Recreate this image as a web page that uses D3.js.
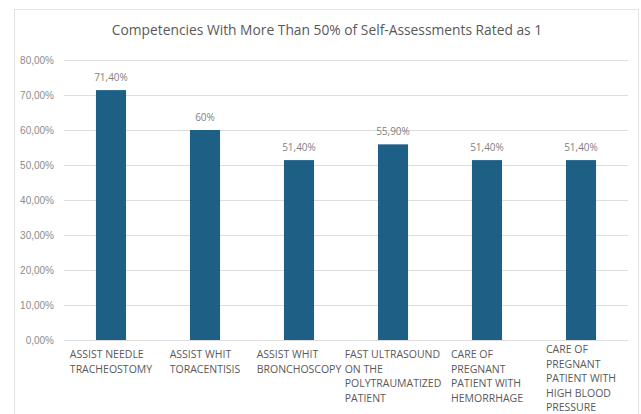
<!DOCTYPE html>
<meta charset="utf-8">
<style>
body { margin: 0; background: #fff; }
svg { font-family: "Open Sans", sans-serif; }
.grid line { stroke: #dedede; }
.grid path { display: none; }
.axis--y path, .axis--y line { display: none; }
.axis--y text { fill: #8c8c8c; font-size: 10px; }
.bar { fill: #1e5f85; }
.value { fill: #7f7f7f; font-size: 10px; text-anchor: middle; }
.cat { fill: #595959; font-size: 10.5px; }
</style>
<svg width="641" height="414"></svg>
<script src="https://d3js.org/d3.v7.min.js"></script>
<script>

var categories = [
  ["ASSIST NEEDLE", "TRACHEOSTOMY"],
  ["ASSIST WHIT", "TORACENTISIS"],
  ["ASSIST WHIT", "BRONCHOSCOPY"],
  ["FAST ULTRASOUND", "ON THE", "POLYTRAUMATIZED", "PATIENT"],
  ["CARE OF", "PREGNANT", "PATIENT WITH", "HEMORRHAGE"],
  ["CARE OF", "PREGNANT", "PATIENT WITH", "HIGH BLOOD", "PRESSURE"]
];
var values = [0.714, 0.60, 0.514, 0.559, 0.514, 0.514];
var valueLabels = ["71,40%", "60%", "51,40%", "55,90%", "51,40%", "51,40%"];
var yTicks = [0, 0.1, 0.2, 0.3, 0.4, 0.5, 0.6, 0.7, 0.8];

var svg = d3.select("svg"),
    margin = {top: 60, right: 13, bottom: 74, left: 64},
    width = +svg.attr("width") - margin.left - margin.right,
    height = +svg.attr("height") - margin.top - margin.bottom;

// chart frame
svg.append("rect")
    .attr("x", 14.5).attr("y", 9.5)
    .attr("width", 624).attr("height", 420)
    .attr("fill", "none").attr("stroke", "#e3e3e3");

svg.append("text")
    .attr("x", 327).attr("y", 35)
    .attr("text-anchor", "middle")
    .attr("fill", "#595959")
    .style("font-size", "13.8px")
    .text("Competencies With More Than 50% of Self-Assessments Rated as 1");

var x = d3.scaleBand().domain(d3.range(values.length)).range([0, width]).paddingInner(0.68).paddingOuter(0.34),
    y = d3.scaleLinear().domain([0, 0.8]).range([height, 0]);

var g = svg.append("g")
    .attr("transform", "translate(" + margin.left + "," + margin.top + ")");

g.append("g")
    .attr("class", "grid")
    .call(d3.axisLeft(y).tickValues(yTicks).tickSize(-width).tickFormat(""));

g.append("g")
    .attr("class", "axis axis--y")
    .call(d3.axisLeft(y).tickValues(yTicks).tickSize(0).tickPadding(10)
      .tickFormat(function(d) { return (d * 100).toFixed(2).replace(".", ",") + "%"; }));

g.selectAll(".bar")
    .data(values)
  .enter().append("rect")
    .attr("class", "bar")
    .attr("x", function(d, i) { return x(i); })
    .attr("y", function(d) { return y(d); })
    .attr("width", x.bandwidth())
    .attr("height", function(d) { return height - y(d); });

g.selectAll(".value")
    .data(values)
  .enter().append("text")
    .attr("class", "value")
    .attr("x", function(d, i) { return x(i) + x.bandwidth() / 2; })
    .attr("y", function(d) { return y(d) - 9; })
    .text(function(d, i) { return valueLabels[i]; });

// category labels: lines left-aligned, block centred under the bar,
// pushed up when the block would run off the bottom
var lineH = 14.5,
    firstLine = height + 18,
    lastMax = +svg.attr("height") - margin.top - 3;

var cats = g.selectAll(".cat")
    .data(categories)
  .enter().append("text")
    .attr("class", "cat")
    .attr("y", function(lines) {
      return Math.min(firstLine, lastMax - (lines.length - 1) * lineH);
    });

cats.each(function(lines, i) {
  var t = d3.select(this);
  lines.forEach(function(line, k) {
    t.append("tspan").attr("dy", k ? lineH : 0).text(line);
  });
  var w = 0;
  t.selectAll("tspan").each(function() { w = Math.max(w, this.getComputedTextLength()); });
  t.selectAll("tspan").attr("x", x(i) + x.bandwidth() / 2 - w / 2);
});

</script>
